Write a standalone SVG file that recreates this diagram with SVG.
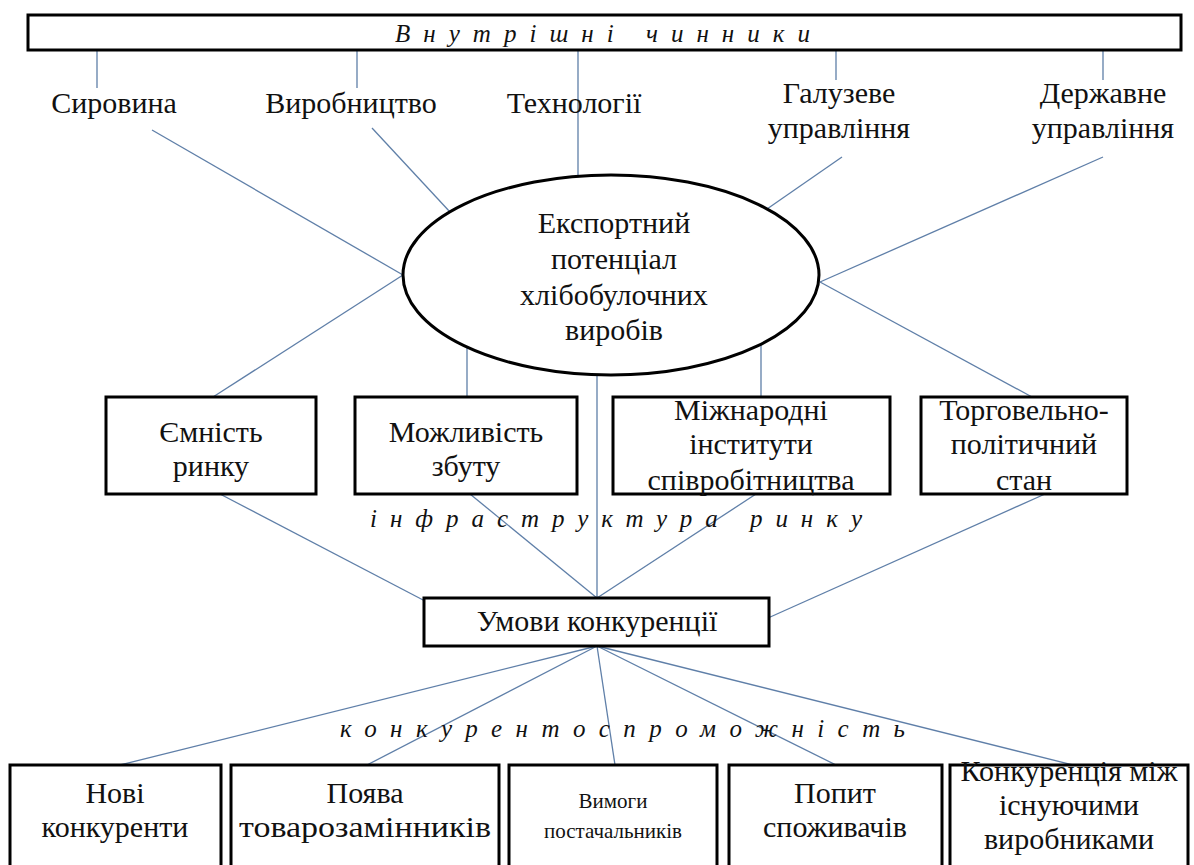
<svg xmlns="http://www.w3.org/2000/svg" width="1194" height="865" viewBox="0 0 1194 865" font-family="'Liberation Serif', 'DejaVu Serif', serif">
<style>
.bg{fill:#ffffff}
.box{fill:#ffffff;stroke:#000000;stroke-width:3}
.con{stroke:#5f7fa8;stroke-width:1.3;fill:none}
.t{font-family:'Liberation Serif','DejaVu Serif',serif;font-size:30px;fill:#111111;text-anchor:middle}
.s{font-family:'Liberation Serif','DejaVu Serif',serif;font-size:21px;fill:#111111;text-anchor:middle}
.i{font-family:'Liberation Serif','DejaVu Serif',serif;font-size:25px;font-style:italic;fill:#111111}
</style>
<rect class="bg" x="0" y="0" width="1194" height="865"/>

<g id="connectors">
  <line class="con" x1="97" y1="50" x2="97" y2="88"/>
  <line class="con" x1="357" y1="50" x2="357" y2="88"/>
  <line class="con" x1="578" y1="50" x2="578" y2="176"/>
  <line class="con" x1="836" y1="50" x2="836" y2="80"/>
  <line class="con" x1="1103" y1="50" x2="1103" y2="80"/>
  <line class="con" x1="152" y1="130" x2="403" y2="275"/>
  <line class="con" x1="372" y1="128" x2="450" y2="212"/>
  <line class="con" x1="842" y1="157" x2="767" y2="209"/>
  <line class="con" x1="1103" y1="157" x2="820" y2="282"/>
  <line class="con" x1="403" y1="275" x2="213" y2="397"/>
  <line class="con" x1="467" y1="347" x2="467" y2="397"/>
  <line class="con" x1="761" y1="344" x2="761" y2="397"/>
  <line class="con" x1="820" y1="282" x2="1032" y2="397"/>
  <line class="con" x1="597" y1="375" x2="597" y2="598"/>
  <line class="con" x1="220" y1="494" x2="425" y2="601"/>
  <line class="con" x1="470" y1="494" x2="597" y2="598"/>
  <line class="con" x1="756" y1="494" x2="597" y2="598"/>
  <line class="con" x1="1045" y1="494" x2="768" y2="618"/>
  <line class="con" x1="597" y1="646" x2="120" y2="765"/>
  <line class="con" x1="597" y1="646" x2="367" y2="765"/>
  <line class="con" x1="597" y1="646" x2="615" y2="765"/>
  <line class="con" x1="597" y1="646" x2="836" y2="765"/>
  <line class="con" x1="597" y1="646" x2="1073" y2="765"/>
</g>

<g id="internal-factors">
  <rect class="box" x="28" y="15" width="1153" height="35"/>
  <text class="i" x="395" y="42" textLength="415" lengthAdjust="spacing">Внутрішні чинники</text>
</g>
<g id="syrovyna"><text class="t" x="114" y="113">Сировина</text></g>
<g id="vyrobnytstvo"><text class="t" x="351" y="113">Виробництво</text></g>
<g id="tekhnologii"><text class="t" x="574" y="113">Технології</text></g>
<g id="haluzeve">
  <text class="t" x="839" y="103">Галузеве</text>
  <text class="t" x="839" y="138">управління</text>
</g>
<g id="derzhavne">
  <text class="t" x="1103" y="103">Державне</text>
  <text class="t" x="1103" y="138">управління</text>
</g>

<g id="export-potential">
  <ellipse cx="611" cy="275" rx="208" ry="100" fill="none" stroke="#000000" stroke-width="3"/>
  <text class="t" x="614" y="233">Експортний</text>
  <text class="t" x="614" y="269">потенціал</text>
  <text class="t" x="614" y="305">хлібобулочних</text>
  <text class="t" x="614" y="340">виробів</text>
</g>

<g id="market-capacity">
  <rect class="box" x="106" y="397" width="210" height="97"/>
  <text class="t" x="211" y="442">Ємність</text>
  <text class="t" x="211" y="476">ринку</text>
</g>
<g id="sales-possibility">
  <rect class="box" x="355" y="397" width="222" height="97"/>
  <text class="t" x="466" y="442">Можливість</text>
  <text class="t" x="466" y="476">збуту</text>
</g>
<g id="intl-institutes">
  <rect class="box" x="613" y="397" width="277" height="97"/>
  <text class="t" x="751" y="420">Міжнародні</text>
  <text class="t" x="751" y="454">інститути</text>
  <text class="t" x="751" y="490">співробітництва</text>
</g>
<g id="trade-policy">
  <rect class="box" x="921" y="397" width="206" height="97"/>
  <text class="t" x="1024" y="420">Торговельно-</text>
  <text class="t" x="1024" y="454">політичний</text>
  <text class="t" x="1024" y="490">стан</text>
</g>

<text class="i" x="370" y="527" textLength="492" lengthAdjust="spacing">інфраструктура ринку</text>

<g id="competition-conditions">
  <rect class="box" x="424" y="598" width="345" height="48"/>
  <text class="t" x="597" y="631">Умови конкуренції</text>
</g>

<text class="i" x="340" y="737" textLength="565" lengthAdjust="spacing">конкурентоспроможність</text>

<g id="new-competitors">
  <rect class="box" x="10" y="765" width="211" height="110"/>
  <text class="t" x="115" y="803">Нові</text>
  <text class="t" x="115" y="837">конкуренти</text>
</g>
<g id="substitutes">
  <rect class="box" x="231" y="765" width="268" height="110"/>
  <text class="t" x="365" y="803">Поява</text>
  <text class="t" x="365" y="837" textLength="252" lengthAdjust="spacingAndGlyphs">товарозамінників</text>
</g>
<g id="suppliers">
  <rect class="box" x="509" y="765" width="208" height="110"/>
  <text class="s" x="613" y="808">Вимоги</text>
  <text class="s" x="613" y="838">постачальників</text>
</g>
<g id="demand">
  <rect class="box" x="729" y="765" width="213" height="110"/>
  <text class="t" x="835" y="803">Попит</text>
  <text class="t" x="835" y="837">споживачів</text>
</g>
<g id="rivalry">
  <rect class="box" x="950" y="765" width="238" height="110"/>
  <text class="t" x="1069" y="781">Конкуренція між</text>
  <text class="t" x="1069" y="815">існуючими</text>
  <text class="t" x="1069" y="849">виробниками</text>
</g>
</svg>
